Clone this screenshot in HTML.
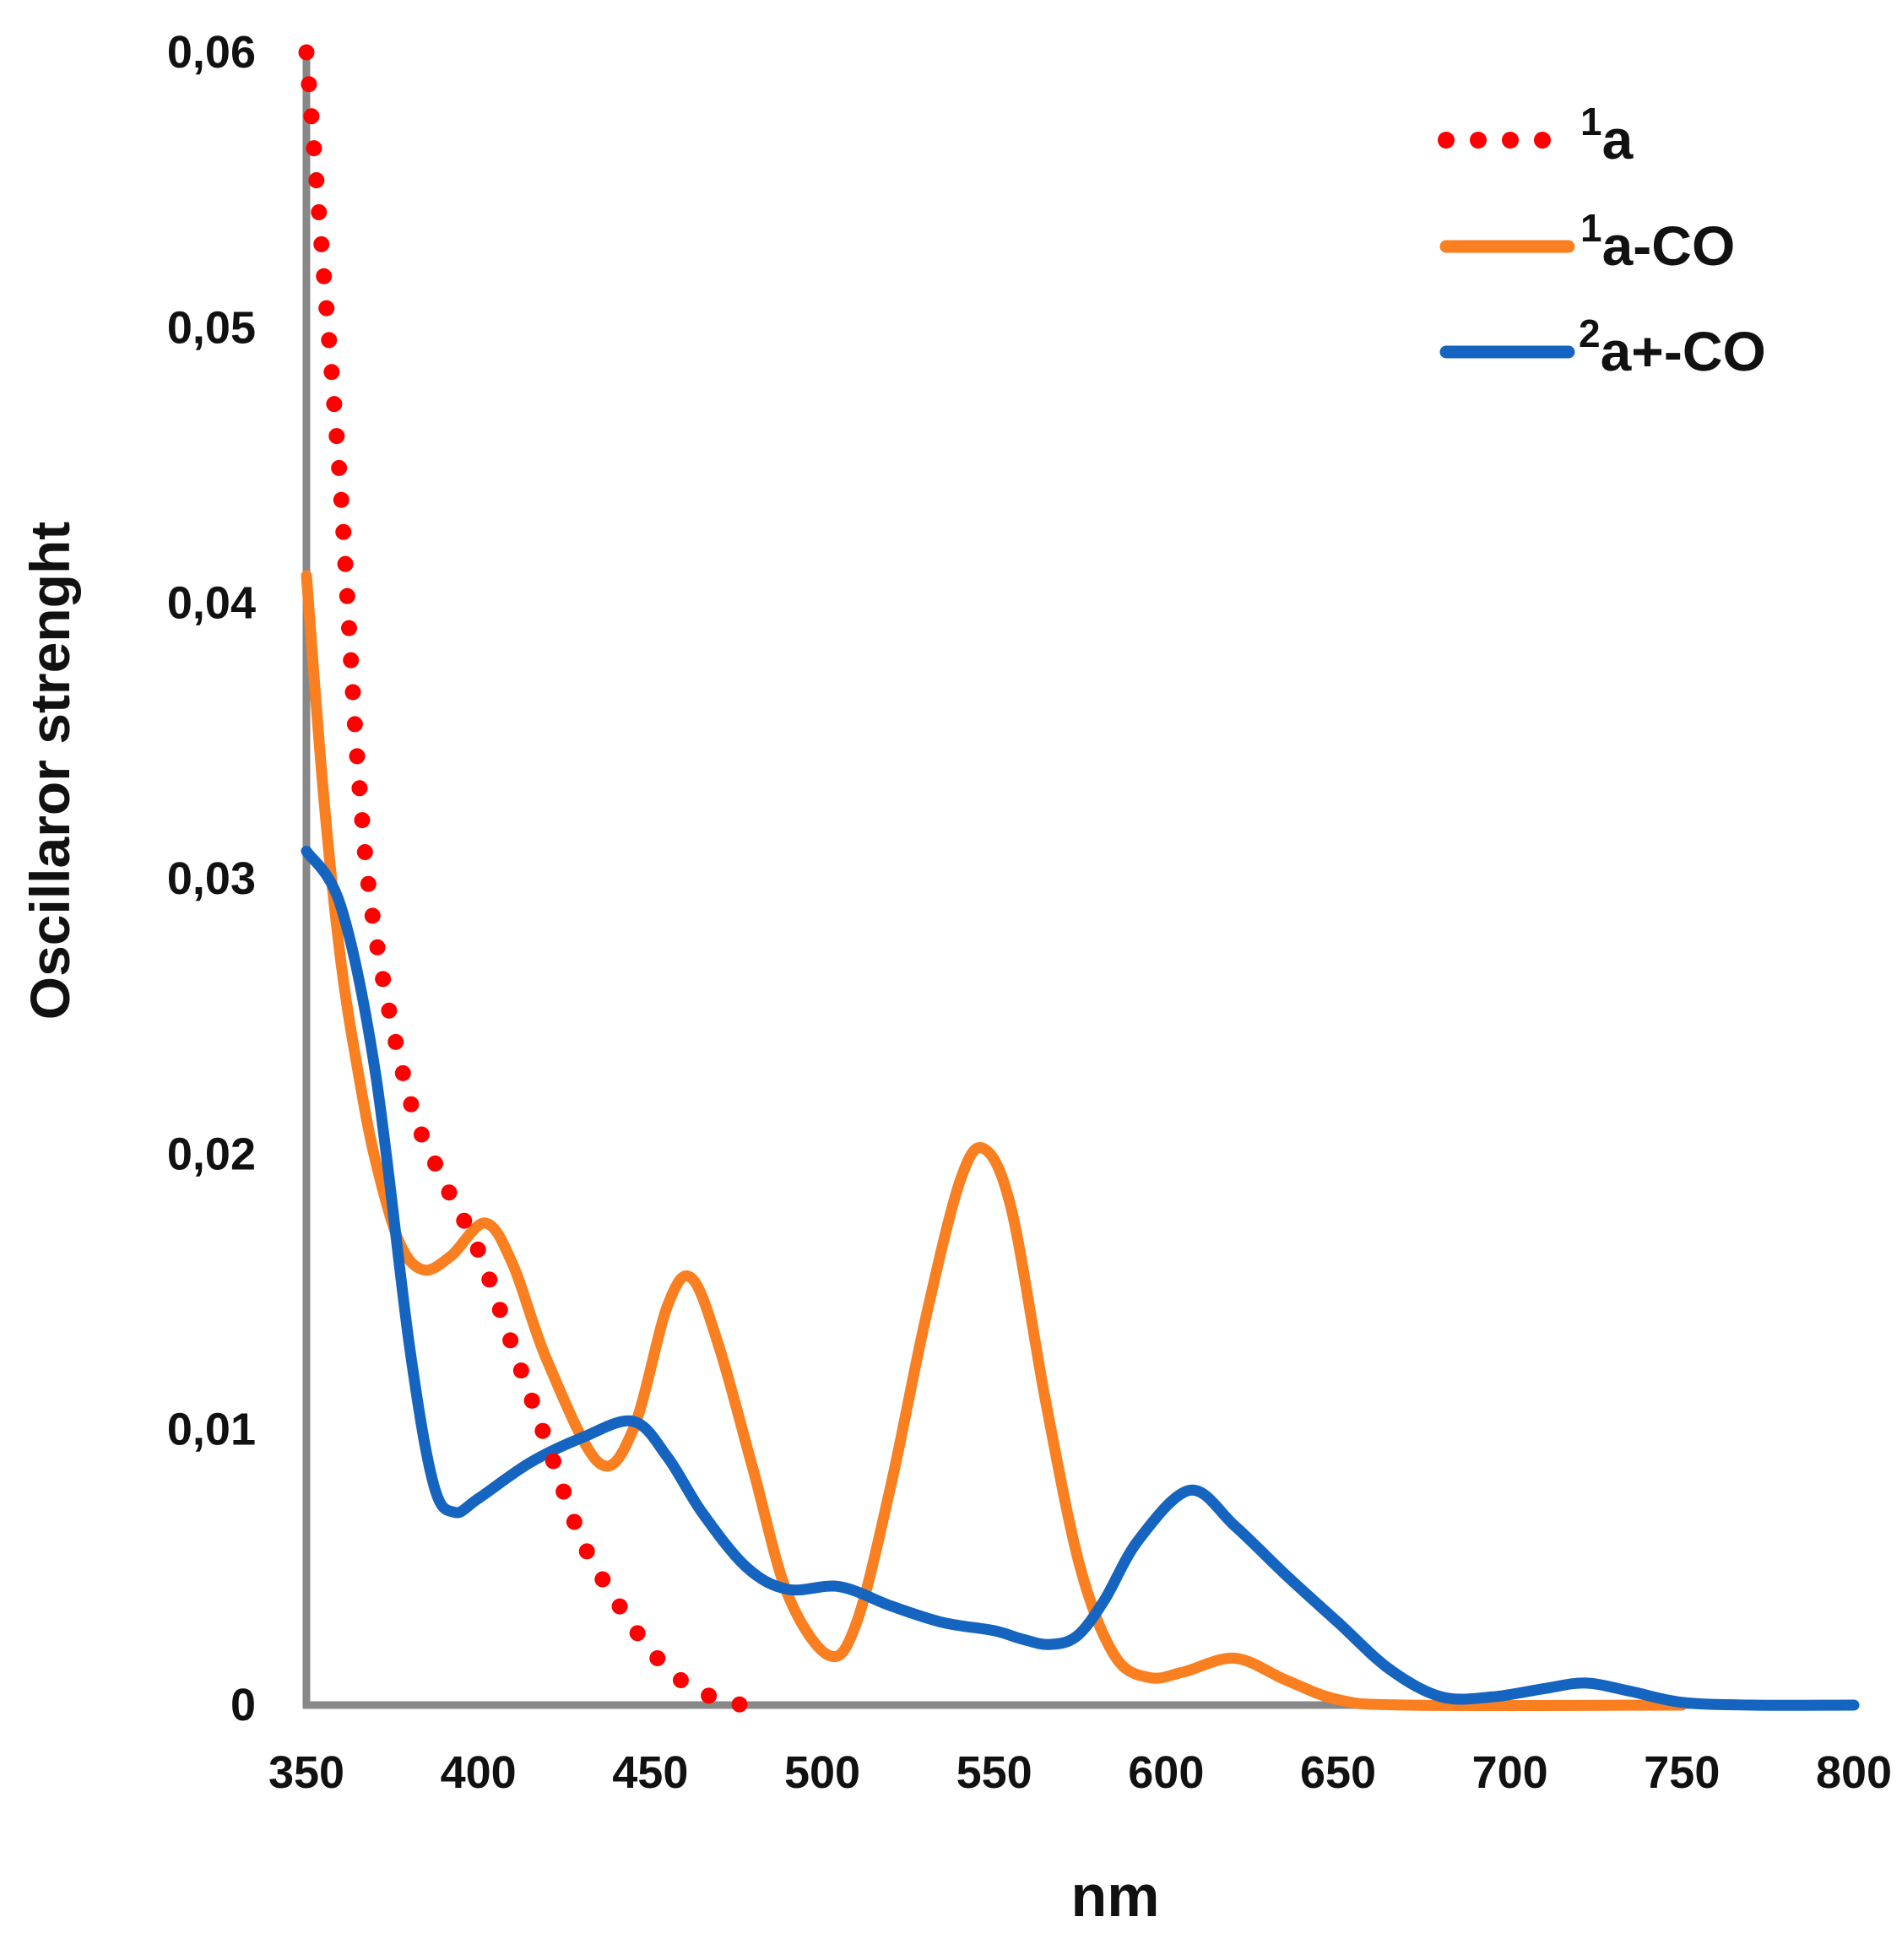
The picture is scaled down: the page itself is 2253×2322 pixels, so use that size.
<!DOCTYPE html>
<html><head><meta charset="utf-8"><style>
html,body{margin:0;padding:0;background:#fff;}
svg{display:block;font-family:"Liberation Sans",sans-serif;}
</style></head><body>
<svg id="chart" width="2253" height="2322" viewBox="0 0 2253 2322" xmlns="http://www.w3.org/2000/svg">
<g id="axes"></g>
<g id="series"></g>
<g id="legend">
  <line x1="1713" y1="166" x2="1830" y2="166" stroke="#ff0000" stroke-width="20" stroke-linecap="round" stroke-dasharray="0 38"/>
  <text x="1872" y="188" font-size="66" font-weight="bold" fill="#111"><tspan font-size="46" dy="-28">1</tspan><tspan dy="28">a</tspan></text>
  <line x1="1713" y1="292" x2="1858" y2="292" stroke="#f97f20" stroke-width="15" stroke-linecap="round"/>
  <text x="1872" y="314" font-size="66" font-weight="bold" fill="#111"><tspan font-size="46" dy="-28">1</tspan><tspan dy="28">a-CO</tspan></text>
  <line x1="1713" y1="417" x2="1858" y2="417" stroke="#1565c0" stroke-width="15" stroke-linecap="round"/>
  <text x="1870" y="439" font-size="66" font-weight="bold" fill="#111"><tspan font-size="46" dy="-28">2</tspan><tspan dy="28">a+-CO</tspan></text>
</g>
<text transform="translate(82,913) rotate(-90)" text-anchor="middle" font-size="66" font-weight="bold" fill="#111">Oscillaror strenght</text>
<text x="1321" y="2270" text-anchor="middle" font-size="70" font-weight="bold" fill="#111">nm</text>
</svg>
<script>
const xTicks = [350,400,450,500,550,600,650,700,750,800];
const yTicks = [0,0.01,0.02,0.03,0.04,0.05,0.06];
const yTickLabels = ["0","0,01","0,02","0,03","0,04","0,05","0,06"];
const redX = [350,355,360,365,370,380,390,400,410,420,430,440,450,460,470,477];
const redY = [0.06,0.052,0.044,0.034,0.028,0.022,0.019,0.0165,0.013,0.0095,0.006,0.0038,0.002,0.0008,0.0002,0];
const orangeX = [350,355,360,365,370,377,384,392,402,410,420,435,445,455,462,470,480,490,502,510,520,530,540,547,555,565,575,585,595,605,620,635,650,670,750];
const orangeY = [0.041,0.033,0.027,0.023,0.0198,0.0168,0.0158,0.0163,0.0175,0.016,0.0125,0.0088,0.01,0.0145,0.0155,0.013,0.0085,0.004,0.0018,0.003,0.008,0.014,0.019,0.0202,0.018,0.011,0.005,0.0018,0.001,0.0012,0.0017,0.0009,0.0002,0,0];
const blueX = [350,360,370,380,387,393,400,415,430,445,455,465,478,490,505,520,535,550,558,566,574,582,592,607,620,635,650,665,680,695,710,722,735,750,770,800];
const blueY = [0.031,0.029,0.023,0.013,0.008,0.007,0.0075,0.0088,0.0097,0.0103,0.009,0.007,0.005,0.0042,0.0043,0.0036,0.003,0.0027,0.0024,0.0022,0.0025,0.0038,0.006,0.0078,0.0065,0.0047,0.003,0.0013,0.0003,0.0003,0.0006,0.0008,0.0005,0.0001,0,0];

const X0=363, X1=2196, Y0=2020, Y1=62;
function sx(v){return X0+(v-350)/(800-350)*(X1-X0);}
function sy(v){return Y0-(v/0.06)*(Y0-Y1);}
const NS="http://www.w3.org/2000/svg";
const axes=document.getElementById('axes');
const series=document.getElementById('series');
function mk(tag,attrs,parent){const e=document.createElementNS(NS,tag);for(const k in attrs)e.setAttribute(k,attrs[k]);parent.appendChild(e);return e;}

const ya=mk('line',{x1:X0,y1:Y1-6,x2:X0,y2:Y0+4,stroke:'#888',"stroke-width":9},axes);


const xa=mk('line',{x1:X0-4,y1:Y0,x2:X1,y2:Y0,stroke:'#888',"stroke-width":9},axes);


xTicks.forEach(function(t){
  const el=mk('text',{x:sx(t),y:2118,"text-anchor":"middle","font-size":54,"font-weight":"bold",fill:"#111"},axes);
  el.textContent=String(t);
  
  
});
yTicks.forEach(function(t,i){
  const el=mk('text',{x:303,y:sy(t)+18,"text-anchor":"end","font-size":54,"font-weight":"bold",fill:"#111"},axes);
  el.textContent=yTickLabels[i];
  
  
});
function pathD(xs,ys){
  const p=xs.map(function(x,i){return [sx(x),sy(ys[i])];});
  let d='M'+p[0][0]+','+p[0][1];
  for(let i=0;i<p.length-1;i++){
    const a=p[Math.max(0,i-1)],b=p[i],c=p[i+1],e=p[Math.min(p.length-1,i+2)];
    const c1x=b[0]+(c[0]-a[0])/6,c1y=b[1]+(c[1]-a[1])/6;
    const c2x=c[0]-(e[0]-b[0])/6,c2y=c[1]-(e[1]-b[1])/6;
    d+=' C'+c1x+','+c1y+' '+c2x+','+c2y+' '+c[0]+','+c[1];
  }
  return d;
}
const po=mk('path',{d:pathD(orangeX,orangeY),fill:'none',stroke:'#f97f20',"stroke-width":13,"stroke-linejoin":"round","stroke-linecap":"round"},series);


const pb=mk('path',{d:pathD(blueX,blueY),fill:'none',stroke:'#1565c0',"stroke-width":13,"stroke-linejoin":"round","stroke-linecap":"round"},series);


const pr=mk('path',{d:pathD(redX,redY),fill:'none',stroke:'#ff0000',"stroke-width":19,"stroke-linecap":"round","stroke-dasharray":"0 38"},series);


</script>
</body></html>
